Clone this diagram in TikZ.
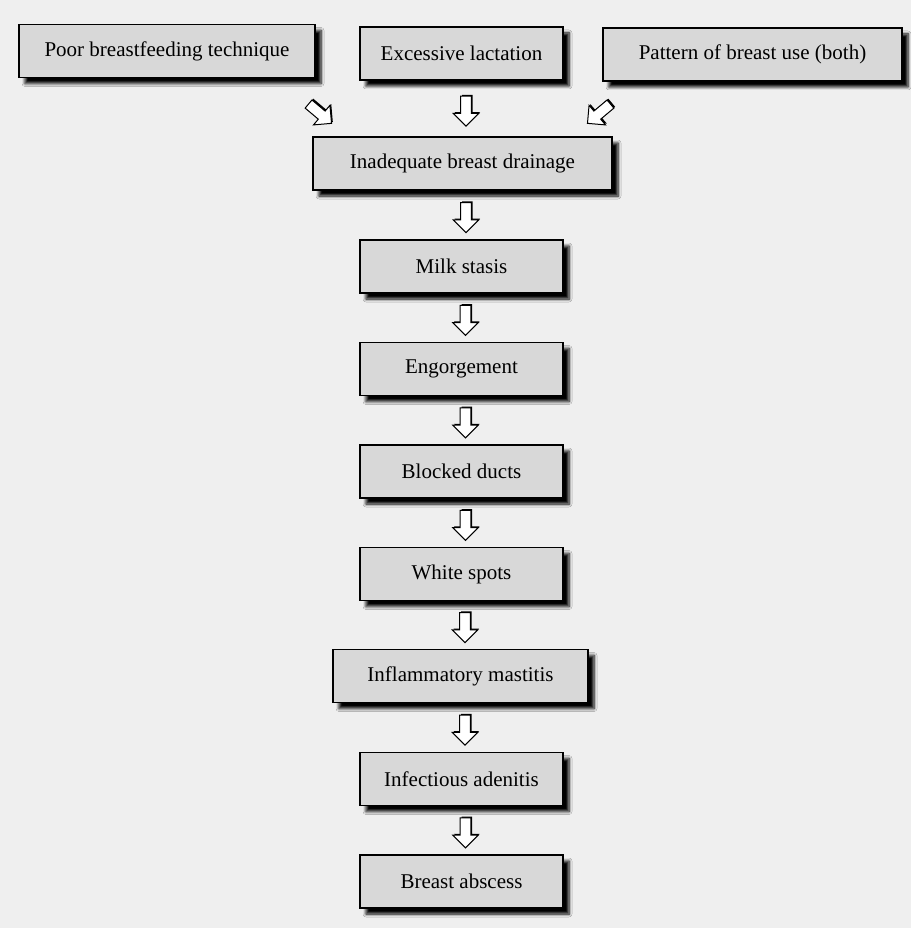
\documentclass[tikz,border=0pt]{standalone}
\usepackage{fontspec}
\setmainfont{Liberation Serif}
\usetikzlibrary{calc,shapes.arrows,shadows,shadows.blur}
\definecolor{boxgray}{HTML}{D8D8D8}
\definecolor{paper}{HTML}{EFEFEF}
\tikzset{
  stage/.style={draw=black, line width=1.3pt, fill=boxgray, minimum height=53pt,
    text=black, font=\fontsize{21}{23}\selectfont,
    blur shadow={shadow xshift=6pt, shadow yshift=-6pt, shadow blur steps=6,
      shadow blur radius=3pt, shadow opacity=100}},
  flow/.style={single arrow, draw=black, line width=1pt, fill=white,
    minimum height=30pt, inner sep=4.8pt, single arrow head extend=7.5pt,
    drop shadow={shadow xshift=1.3pt, shadow yshift=1.3pt, fill=black, opacity=1}}
}
\begin{document}
\begin{tikzpicture}[x=1pt,y=-1pt]
    \fill[paper] (0,0) rectangle (911,928);
    \useasboundingbox (0,0) rectangle (911,928);
    % causes
    \node[stage, minimum width=296pt] (poor) at (167,51) {Poor breastfeeding technique};
    \node[stage, minimum width=203pt] (excess) at (461.5,53.5) {Excessive lactation};
    \node[stage, minimum width=299pt] (pattern) at (752.5,54.5) {Pattern of breast use (both)};
    % chain
    \node[stage, minimum width=299pt] (drain) at (462.5,163.5) {Inadequate breast drainage};
    \node[stage, minimum width=203pt] (milk) at (461.5,266.5) {Milk stasis};
    \node[stage, minimum width=203pt] (engorge) at (461.5,369) {Engorgement};
    \node[stage, minimum width=203pt] (blocked) at (461.5,471.5) {Blocked ducts};
    \node[stage, minimum width=203pt] (white) at (461.5,574) {White spots};
    \node[stage, minimum width=255pt] (inflam) at (460.5,676) {Inflammatory mastitis};
    \node[stage, minimum width=203pt] (adenitis) at (461.5,779) {Infectious adenitis};
    \node[stage, minimum width=203pt] (abscess) at (461.5,881.5) {Breast abscess};
    % arrows
    \node[flow, rotate=-40] (a1) at (318,112) {};
    \node[flow, rotate=-140] (a3) at (601,112) {};
    \foreach \up/\down/\name in {excess/drain/a2,drain/milk/b1,milk/engorge/b2,
      engorge/blocked/b3,blocked/white/b4,white/inflam/b5,inflam/adenitis/b6,
      adenitis/abscess/b7}
      \node[flow, rotate=-90, yshift=4pt] (\name) at ($(\up.south)!0.5!(\down.north)$) {};
\end{tikzpicture}
\end{document}
